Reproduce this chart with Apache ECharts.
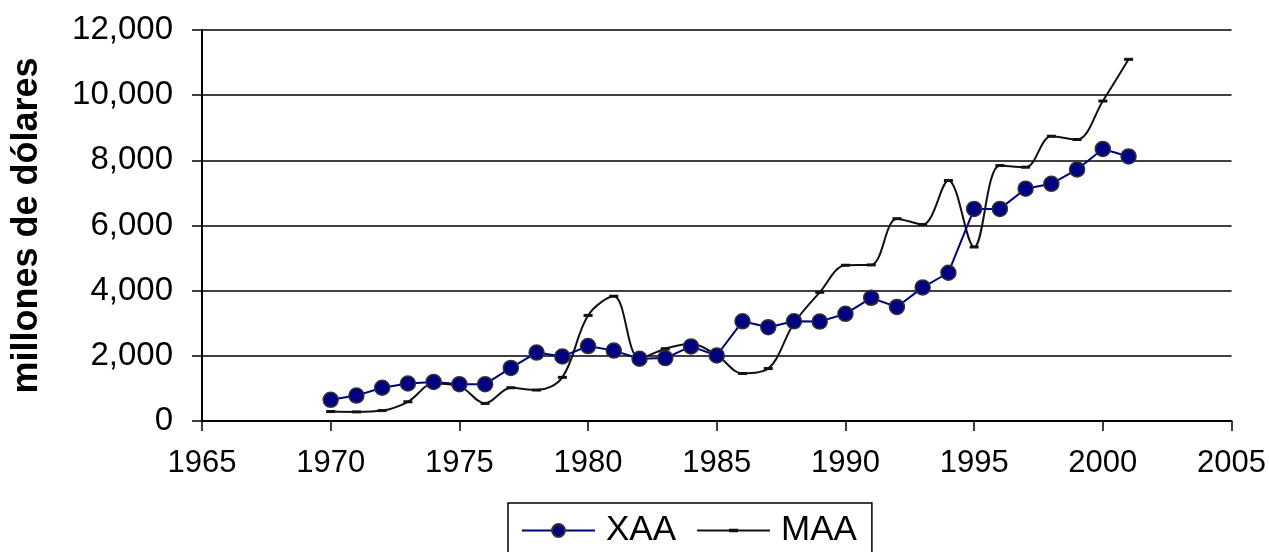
<!DOCTYPE html>
<html>
<head>
<meta charset="utf-8">
<script src="https://cdn.jsdelivr.net/npm/echarts@6/dist/echarts.min.js"></script>
<style>
html,body{margin:0;padding:0;background:#fff;}
#c{width:1269px;height:552px;}
</style>
</head>
<body>
<div id="c"></div>
<script>
const years = [1970,1971,1972,1973,1974,1975,1976,1977,1978,1979,1980,1981,1982,1983,1984,1985,1986,1987,1988,1989,1990,1991,1992,1993,1994,1995,1996,1997,1998,1999,2000,2001];
const xaa = [650,780,1020,1150,1200,1130,1130,1630,2100,1980,2300,2160,1910,1930,2290,2010,3060,2880,3060,3050,3290,3780,3500,4100,4550,6510,6510,7130,7280,7720,8350,8120];
const maa = [290,280,320,590,1150,1070,540,1020,950,1340,3240,3830,1920,2220,2370,2020,1460,1610,3000,3950,4780,4790,6210,6030,7380,5340,7840,7790,8740,8640,9820,11100];
const yTicks = [0,2000,4000,6000,8000,10000,12000];
const xTicks = [1965,1970,1975,1980,1985,1990,1995,2000,2005];
const seriesNames = ['XAA','MAA'];
const yTitle = 'millones de dólares';

const font = '"Liberation Sans", Arial, sans-serif';
const dashIcon = 'path://M0,0 L0.01,0 L0.01,0.01 Z M0,14 L0.01,14 L0.01,13.99 Z M0,6.1 L73,6.1 L73,7.9 L0,7.9 Z M32,5.2 L41,5.2 L41,8.8 L32,8.8 Z';
const chart = echarts.init(document.getElementById('c'), null, {renderer:'canvas'});
chart.setOption({
  backgroundColor:'#fff',
  animation:false,
  textStyle:{fontFamily:font, color:'#000'},
  grid:{left:202, right:35, top:30, bottom:131, containLabel:false},
  legend:{
    left:508, top:503,
    data:[
      {name:seriesNames[0]},
      {name:seriesNames[1], icon:dashIcon, itemStyle:{color:'#111', borderWidth:0}}
    ],
    borderColor:'#000', borderWidth:1.5,
    padding:[10,15,30,13],
    itemWidth:73, itemHeight:16, itemGap:21,
    textStyle:{fontSize:35, fontFamily:font, color:'#000', padding:[0,0,0,6]}
  },
  xAxis:{
    type:'value', min:xTicks[0], max:xTicks[xTicks.length-1], interval:5,
    axisLine:{lineStyle:{color:'#000', width:2}},
    axisTick:{show:true, length:10, lineStyle:{color:'#000', width:1.5}},
    axisLabel:{fontSize:31, color:'#000', margin:27, formatter:v=>String(v)},
    splitLine:{show:false}
  },
  yAxis:{
    type:'value', min:yTicks[0], max:yTicks[yTicks.length-1], interval:2000,
    name:yTitle, nameLocation:'middle', nameRotate:90, nameGap:157,
    nameTextStyle:{fontSize:36, fontWeight:'bold', color:'#000', fontFamily:font},
    axisLine:{show:true, lineStyle:{color:'#000', width:2}},
    axisTick:{show:true, length:10, lineStyle:{color:'#000', width:1.5}},
    axisLabel:{fontSize:33, color:'#000', margin:29, formatter:v=>v.toLocaleString('en-US')},
    splitLine:{show:true, lineStyle:{color:'#000', width:1.5}}
  },
  series:[
    {
      name:seriesNames[0], type:'line',
      data:years.map((y,i)=>[y,xaa[i]]),
      symbol:'circle', symbolSize:15,
      lineStyle:{color:'#000080', width:2},
      itemStyle:{color:'#000080', borderColor:'#333', borderWidth:1.5},
      z:3
    },
    {
      name:seriesNames[1], type:'line',
      data:years.map((y,i)=>[y,maa[i]]),
      smooth:0.35,
      symbol:'rect', symbolSize:[9,3],
      lineStyle:{color:'#111', width:2},
      itemStyle:{color:'#111'},
      z:2
    }
  ]
});
</script>
</body>
</html>
